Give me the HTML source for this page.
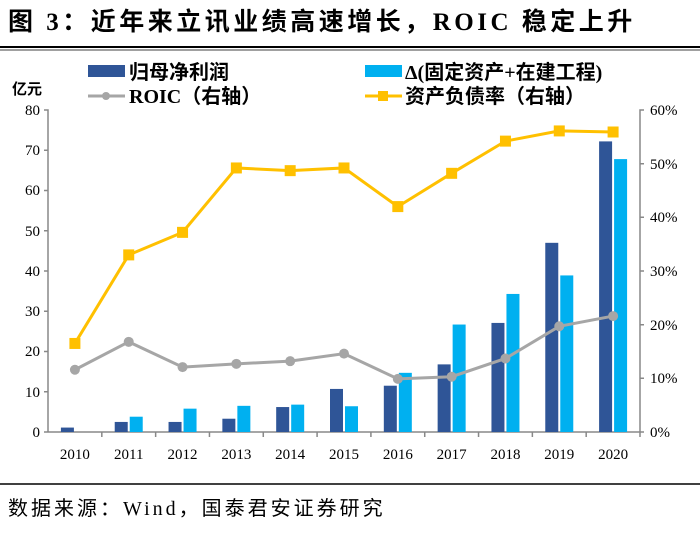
<!DOCTYPE html>
<html><head><meta charset="utf-8"><style>
body{margin:0;background:#fff;}
svg{display:block;font-family:"Liberation Serif","Noto Serif CJK SC",serif;}
.cj{font-family:"Liberation Serif","Noto Sans CJK SC",sans-serif;}
</style></head><body>
<svg width="700" height="533" viewBox="0 0 700 533" xmlns="http://www.w3.org/2000/svg">
<text x="8" y="30" font-size="25" font-weight="bold" letter-spacing="3.5" class="cj" fill="#000">图 3：近年来立讯业绩高速增长，ROIC 稳定上升</text>
<line x1="0" y1="47" x2="700" y2="47" stroke="#000" stroke-width="2"/>
<line x1="0" y1="50" x2="700" y2="50" stroke="#000" stroke-width="0.7"/>
<line x1="0" y1="484" x2="700" y2="484" stroke="#000" stroke-width="1.5"/>
<text x="8" y="515" font-size="20" letter-spacing="3" class="cj" fill="#000">数据来源：Wind，国泰君安证券研究</text>
<!-- legend -->
<rect x="88" y="65" width="37" height="12" fill="#2f5597"/>
<text x="129" y="79" font-size="20" font-weight="bold" class="cj">归母净利润</text>
<rect x="365" y="65" width="37" height="12" fill="#00b0f0"/>
<text x="405" y="79" font-size="20" font-weight="bold" class="cj">Δ(固定资产+在建工程)</text>
<line x1="88" y1="96" x2="125" y2="96" stroke="#a6a6a6" stroke-width="3"/>
<circle cx="106" cy="96" r="4" fill="#a6a6a6"/>
<text x="129" y="103" font-size="20" font-weight="bold" class="cj">ROIC（右轴）</text>
<line x1="365" y1="96" x2="402" y2="96" stroke="#ffc000" stroke-width="3"/>
<rect x="378" y="91" width="10" height="10" fill="#ffc000"/>
<text x="405" y="103" font-size="20" font-weight="bold" class="cj">资产负债率（右轴）</text>
<text x="12" y="94" font-size="15" font-weight="bold" class="cj">亿元</text>
<!-- axes -->
<g stroke="#888" stroke-width="1.5" fill="none">
<path d="M44 110H48V432M44 150.25H48M44 190.5H48M44 230.75H48M44 271H48M44 311.25H48M44 351.5H48M44 391.75H48M44 432H48"/>
<path d="M644 110H640V432M644 163.7H640M644 217.3H640M644 271H640M644 324.7H640M644 378.3H640M644 432H640"/>
<path d="M48 432H640"/>
</g>
<g font-size="15" text-anchor="end">
<text x="40" y="115">80</text><text x="40" y="155">70</text><text x="40" y="195">60</text><text x="40" y="236">50</text><text x="40" y="276">40</text><text x="40" y="316">30</text><text x="40" y="356">20</text><text x="40" y="397">10</text><text x="40" y="437">0</text>
</g>
<g font-size="15">
<text x="650" y="115">60%</text><text x="650" y="169">50%</text><text x="650" y="222">40%</text><text x="650" y="276">30%</text><text x="650" y="330">20%</text><text x="650" y="383">10%</text><text x="650" y="437">0%</text>
</g>
<g id="chart"></g>
<script>
var g=document.getElementById('chart');var ns='http://www.w3.org/2000/svg';
function el(t,a){var e=document.createElementNS(ns,t);for(var k in a)e.setAttribute(k,a[k]);g.appendChild(e);return e;}
var d=[1.1,2.5,2.5,3.3,6.2,10.7,11.5,16.8,27.1,47,72.2],l=[0,3.8,5.8,6.5,6.8,6.4,14.7,26.7,34.3,38.9,67.8];
var r=[11.6,16.8,12.1,12.7,13.2,14.6,9.9,10.3,13.7,19.7,21.6],q=[16.5,33,37.2,49.2,48.7,49.2,42,48.2,54.2,56.1,55.9];
var w=592/11,pr='',pq='';
for(var i=0;i<11;i++){var c=48+w*(i+0.5);
el('line',{x1:48+w*(i+1),y1:432,x2:48+w*(i+1),y2:437,stroke:'#888','stroke-width':1.5});
el('rect',{x:c-14,y:432-d[i]*4.025,width:13,height:d[i]*4.025,fill:'#2f5597'});
if(l[i]>0)el('rect',{x:c+1,y:432-l[i]*4.025,width:13,height:l[i]*4.025,fill:'#00b0f0'});
var t=el('text',{x:c,y:459,'font-size':15,'text-anchor':'middle'});t.textContent=2010+i;
pr+=(i?'L':'M')+c+' '+(432-r[i]*5.3667);pq+=(i?'L':'M')+c+' '+(432-q[i]*5.3667);}
el('path',{d:pr,stroke:'#a6a6a6','stroke-width':3,fill:'none'});
el('path',{d:pq,stroke:'#ffc000','stroke-width':3,fill:'none'});
for(var i=0;i<11;i++){var c=48+w*(i+0.5);
el('circle',{cx:c,cy:432-r[i]*5.3667,r:5,fill:'#a6a6a6'});
el('rect',{x:c-5.5,y:432-q[i]*5.3667-5.5,width:11,height:11,fill:'#ffc000'});}
</script>
</svg>
</body></html>
